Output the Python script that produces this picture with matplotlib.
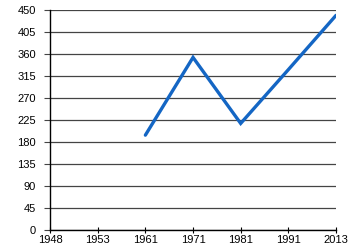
import matplotlib
matplotlib.use("Agg")
import matplotlib.pyplot as plt

years = ["1948", "1953", "1961", "1971", "1981", "1991", "2013"]
values = [None, None, 194, 353, 218, 328, 439]
y_ticks = list(range(0, 451, 45))

plt.rcParams["font.family"] = ["Liberation Sans", "DejaVu Sans"]

fig = plt.figure(figsize=(3.5, 2.5), dpi=100)
ax = fig.add_axes([0.143, 0.08, 0.817, 0.88])

xs = [i for i, v in enumerate(values) if v is not None]
ys = [v for v in values if v is not None]
ax.plot(xs, ys, color="#1466c4", linewidth=2.4, solid_capstyle="round",
        solid_joinstyle="miter", zorder=3)

ax.set_xlim(0, len(years) - 1)
ax.set_ylim(0, 450)
ax.set_xticks(range(len(years)))
ax.set_xticklabels(years)
ax.set_yticks(y_ticks)

ax.yaxis.grid(True, color="#444444", linewidth=0.9)
ax.set_axisbelow(True)
for side in ["top", "right"]:
    ax.spines[side].set_visible(False)
for side in ["left", "bottom"]:
    ax.spines[side].set_color("black")
    ax.spines[side].set_linewidth(1.0)

ax.tick_params(axis="x", direction="inout", length=5, width=0.8,
               labelsize=8, pad=1)
ax.tick_params(axis="y", direction="out", length=4, width=0.8,
               labelsize=8, pad=6, color="#444444")

fig.savefig("out.png", dpi=100)
